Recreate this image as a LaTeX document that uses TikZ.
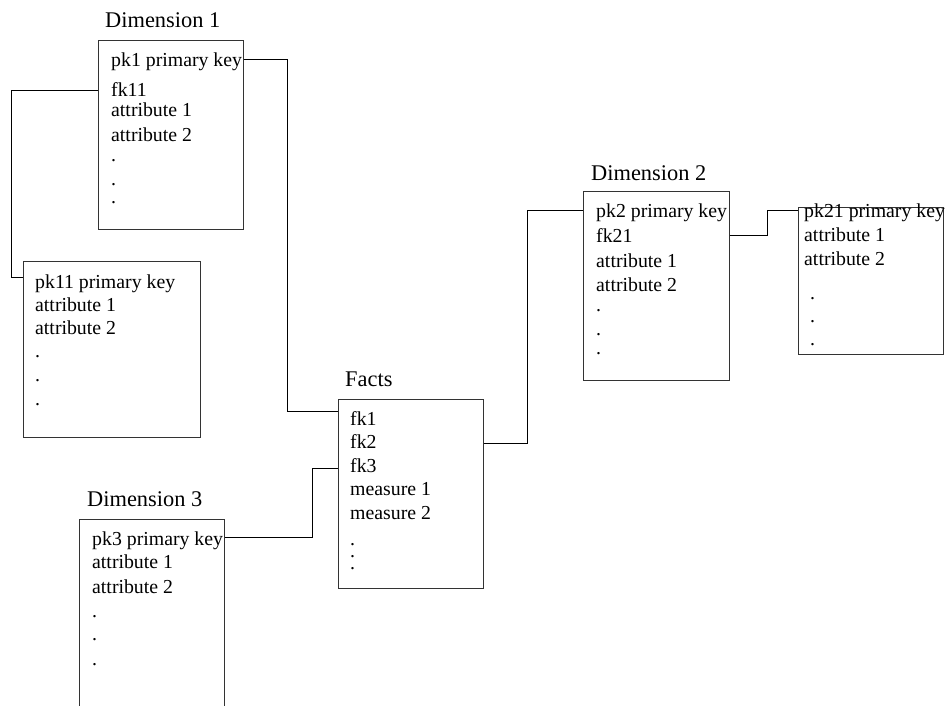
\documentclass[tikz,border=0pt]{standalone}
\usepackage{fontspec}
\setmainfont{Liberation Serif}
\begin{document}
\begin{tikzpicture}[x=1pt,y=-1pt,
  tablebox/.style={draw=black!80, line width=0.9pt, inner sep=0pt, anchor=north west},
  row/.style={anchor=base west, inner sep=0pt, font=\fontsize{19.8}{24}\selectfont},
  dotrow/.style={row, text height=3pt, text depth=0pt},
  heading/.style={anchor=base west, inner sep=0pt, font=\fontsize{22.4}{27}\selectfont},
  link/.style={draw=black, line width=0.9pt}]
\useasboundingbox (0,0) rectangle (946,705);
\clip (0,0) rectangle (946,705);

% table frames
\node[tablebox, minimum width=145pt, minimum height=189pt] (d1) at (98,40) {};
\node[tablebox, minimum width=177pt, minimum height=176pt] (d11) at (23,261) {};
\node[tablebox, minimum width=145pt, minimum height=189pt] (facts) at (338,399) {};
\node[tablebox, minimum width=145pt, minimum height=220pt] (d3) at (79,519) {};
\node[tablebox, minimum width=146pt, minimum height=189pt] (d2) at (583,191) {};
\node[tablebox, minimum width=145pt, minimum height=147pt] (d21) at (798,207) {};

% table titles
\node[heading] (d1title) at (105,27) {Dimension 1};
\node[heading] (d2title) at (591,180) {Dimension 2};
\node[heading] (d3title) at (87,506) {Dimension 3};
\node[heading] (factstitle) at (345,386) {Facts};

% Dimension 1 rows
\node[row] (d1r1) at (111,66.5) {pk1 primary key};
\node[row] (d1r2) at (111,96) {fk11};
\node[row] (d1r3) at (111,116) {attribute 1};
\node[row] (d1r4) at (111,141) {attribute 2};
\node[dotrow] (d1r5) at (111,161) {.};
\node[dotrow] (d1r6) at (111,185) {.};
\node[dotrow] (d1r7) at (111,203) {.};

% Dimension 11 rows
\node[row] (d11r1) at (35,288) {pk11 primary key};
\node[row] (d11r2) at (35,311) {attribute 1};
\node[row] (d11r3) at (35,334) {attribute 2};
\node[dotrow] (d11r4) at (35,357) {.};
\node[dotrow] (d11r5) at (35,381) {.};
\node[dotrow] (d11r6) at (35,405) {.};

% Facts rows
\node[row] (fr1) at (350,425) {fk1};
\node[row] (fr2) at (350,448) {fk2};
\node[row] (fr3) at (350,472) {fk3};
\node[row] (fr4) at (350,495) {measure 1};
\node[row] (fr5) at (350,519) {measure 2};
\node[dotrow] (fr6) at (350,545) {.};
\node[dotrow] (fr7) at (350,557) {.};
\node[dotrow] (fr8) at (350,569) {.};

% Dimension 3 rows
\node[row] (d3r1) at (92,545) {pk3 primary key};
\node[row] (d3r2) at (92,568) {attribute 1};
\node[row] (d3r3) at (92,593) {attribute 2};
\node[dotrow] (d3r4) at (92,617) {.};
\node[dotrow] (d3r5) at (92,640) {.};
\node[dotrow] (d3r6) at (92,665) {.};

% Dimension 2 rows
\node[row] (d2r1) at (596,217) {pk2 primary key};
\node[row] (d2r2) at (596,242) {fk21};
\node[row] (d2r3) at (596,267) {attribute 1};
\node[row] (d2r4) at (596,291) {attribute 2};
\node[dotrow] (d2r5) at (596,311) {.};
\node[dotrow] (d2r6) at (596,335) {.};
\node[dotrow] (d2r7) at (596,354) {.};

% Dimension 21 rows
\node[row] (d21r1) at (804,217) {pk21 primary key};
\node[row] (d21r2) at (804,241) {attribute 1};
\node[row] (d21r3) at (804,265) {attribute 2};
\node[dotrow] (d21r4) at (810,299) {.};
\node[dotrow] (d21r5) at (810,322) {.};
\node[dotrow] (d21r6) at (810,345) {.};

% key links
\draw[link] (d1.east |- 0,59) -| (287,411) -- (facts.west |- 0,411);
\draw[link] (d1.west |- 0,90) -| (11,277) -- (d11.west |- 0,277);
\draw[link] (facts.west |- 0,468) -| (312,537) -- (d3.east |- 0,537);
\draw[link] (facts.east |- 0,443) -| (527,210) -- (d2.west |- 0,210);
\draw[link] (d2.east |- 0,235) -| (767,210) -- (d21.west |- 0,210);
\end{tikzpicture}
\end{document}
